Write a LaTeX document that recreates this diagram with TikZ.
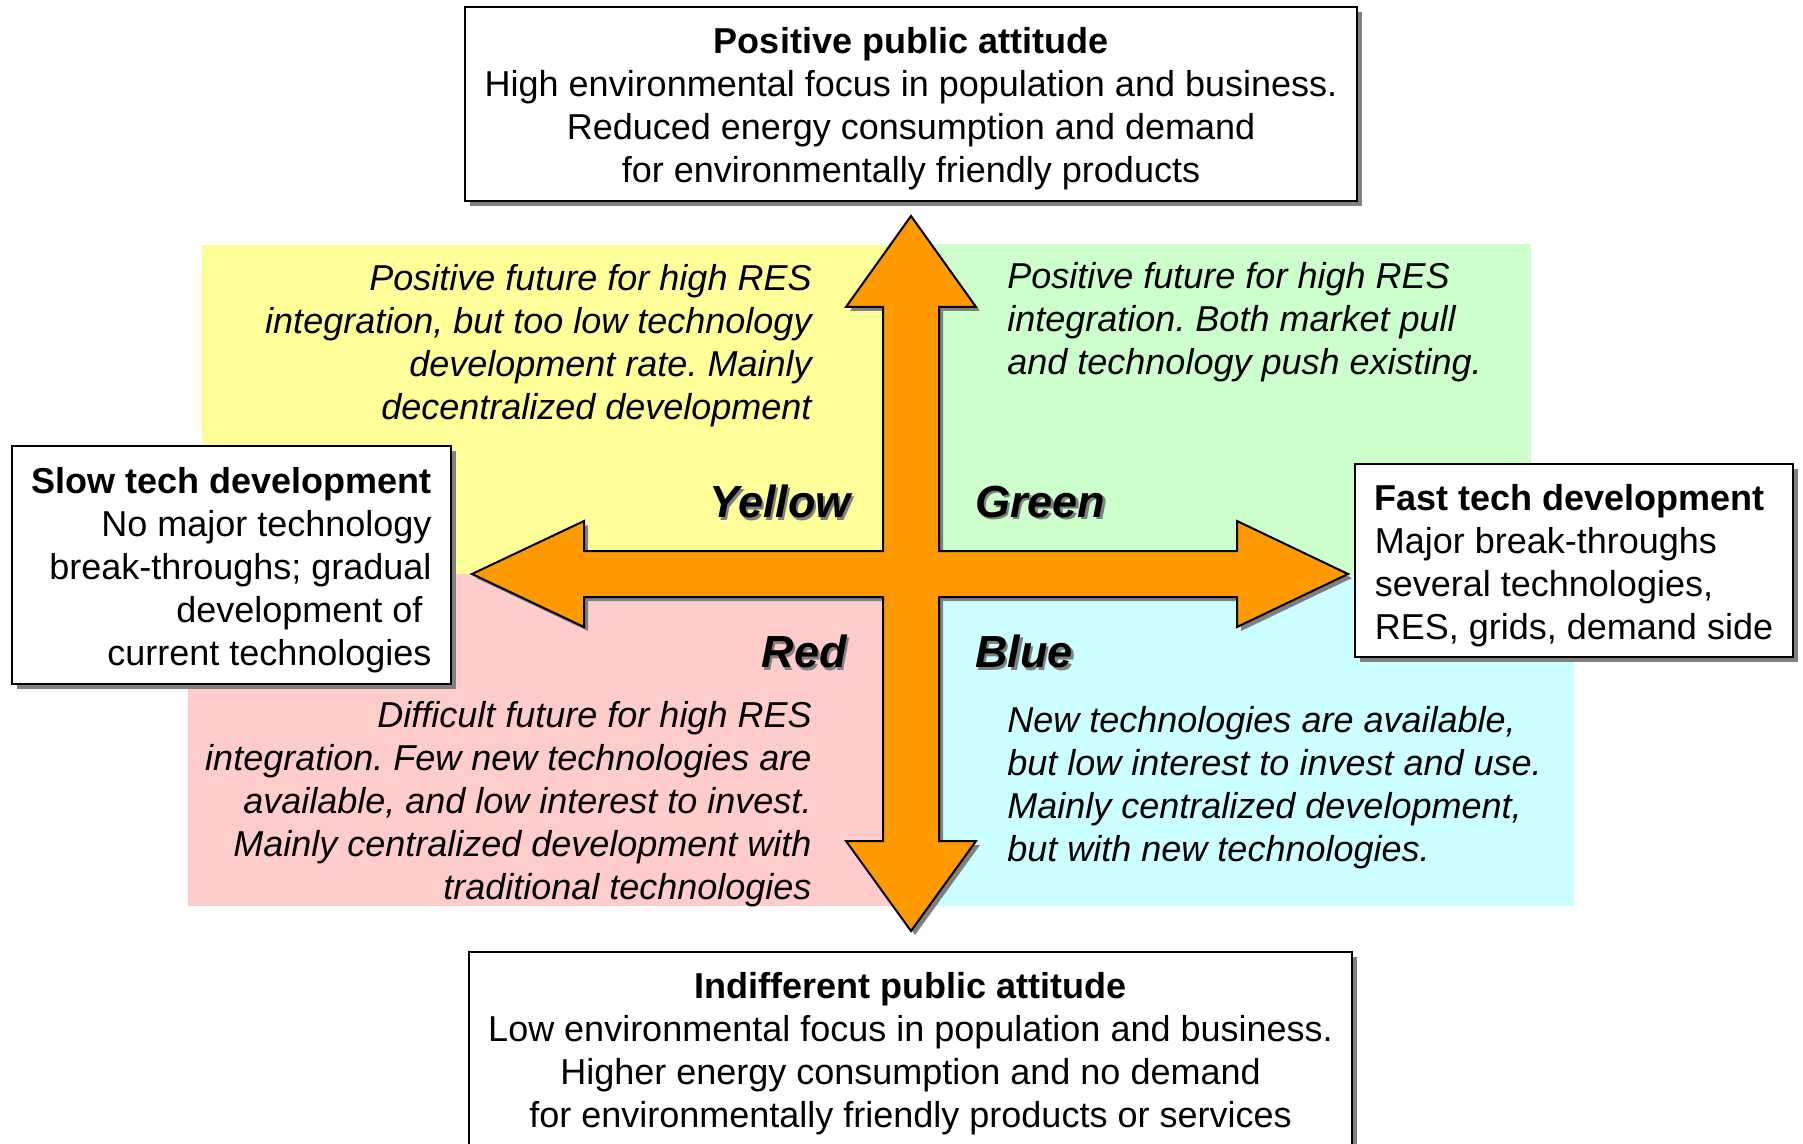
\documentclass[tikz,border=0pt]{standalone}
\usepackage{fontspec}
\setmainfont{Liberation Sans}
\usetikzlibrary{positioning,shadows}

\definecolor{scenyellow}{HTML}{FFFF99}
\definecolor{scengreen}{HTML}{CCFFCC}
\definecolor{scenred}{HTML}{FFCCCC}
\definecolor{scenblue}{HTML}{CCFFFF}
\definecolor{crossorange}{HTML}{FF9900}
\definecolor{shadowgray}{HTML}{808080}

\frenchspacing

% label with a small grey copy behind it
\newcommand{\shadowed}[1]{\rlap{\hspace{1.1pt}\raisebox{-1.1pt}{\color{shadowgray}#1}}#1}
% taller first line, pushes box text a little down
\newcommand{\topstrut}{\rule{0pt}{18pt}}

\begin{document}
\begin{tikzpicture}[
    x=0.5pt, y=-0.5pt,
    box/.style={draw, line width=1.3pt, fill=white, inner sep=0pt,
                font=\fontsize{18}{21.5}\selectfont,
                drop shadow={shadow xshift=2.3pt, shadow yshift=-2.3pt,
                             opacity=1, fill=shadowgray}},
    attbox/.style={box, align=center, minimum height=97pt},
    techbox/.style={box},
    scentext/.style={inner sep=0pt, font=\fontsize{18}{21.5}\selectfont\itshape},
    scenlabel/.style={inner sep=0pt, font=\fontsize{22.5}{27}\selectfont\bfseries\itshape},
    cross/.style={fill=crossorange, draw=black, line width=1pt, line join=miter,
                  drop shadow={shadow xshift=2pt, shadow yshift=-2pt,
                               opacity=1, fill=shadowgray}}
  ]

  \useasboundingbox (0,0) rectangle (1803,1144);
  \clip (0,0) rectangle (1803,1144);
  \fill[white] (0,0) rectangle (1803,1144);

  % ========= four scenario quadrants =========
  \fill[scenyellow] (202,245) rectangle (911,574);
  \fill[scengreen]  (911,244) rectangle (1531,574);
  \fill[scenred]    (188,574) rectangle (911,906);
  \fill[scenblue]   (911,574) rectangle (1574,906);

  % ========= four-headed cross, drawn around its hub =========
  \coordinate (hub) at (911,574);
  \begin{scope}[shift={(hub)}]
    \draw[cross]
      (0,-358) -- (65,-267) -- (28,-267) -- (28,-23)        % up
      -- (326,-23) -- (326,-53) -- (437,0) -- (326,53)      % right
      -- (326,23) -- (28,23) -- (28,267) -- (65,267)
      -- (0,357) -- (-65,267) -- (-28,267) -- (-28,23)      % down
      -- (-327,23) -- (-327,53) -- (-439,0) -- (-327,-53)   % left
      -- (-327,-23) -- (-28,-23) -- (-28,-267) -- (-65,-267) -- cycle;
  \end{scope}

  % ========= scenario descriptions =========
  \node[scentext, anchor=east, align=right] (ytext) at (812,345.5)
    {Positive future for high RES\\
     integration, but too low technology\\
     development rate. Mainly\\
     decentralized development};
  \node[scentext, anchor=west, align=left] (gtext) at (1007,322)
    {Positive future for high RES\\
     integration. Both market pull\\
     and technology push existing.};
  \node[scentext, anchor=east, align=right] (rtext) at (812,804.5)
    {Difficult future for high RES\\
     integration. Few new technologies are\\
     available, and low interest to invest.\\
     Mainly centralized development with\\
     traditional technologies};
  \node[scentext, anchor=west, align=left] (btext) at (1007,787.5)
    {New technologies are available,\\
     but low interest to invest and use.\\
     Mainly centralized development,\\
     but with new technologies.};

  % ========= scenario names =========
  \node[scenlabel, anchor=east] (ylabel) at (851,503) {\shadowed{Yellow}};
  \node[scenlabel, anchor=west] (glabel) at (975,503) {\shadowed{Green}};
  \node[scenlabel, anchor=east] (rlabel) at (847,653) {\shadowed{Red}};
  \node[scenlabel, anchor=west] (blabel) at (975,653) {\shadowed{Blue}};

  % ========= axis end boxes =========
  \node[attbox, minimum width=446pt] (positive) at (911,104)
    {\topstrut\textbf{Positive public attitude}\\
     High environmental focus in population and business.\\
     Reduced energy consumption and demand\\
     for environmentally friendly products};
  \node[attbox, minimum width=441.5pt] (indiff) at (910.5,1049)
    {\topstrut\textbf{Indifferent public attitude}\\
     Low environmental focus in population and business.\\
     Higher energy consumption and no demand\\
     for environmentally friendly products or services};
  \node[techbox, align=right, minimum width=219.5pt, minimum height=119pt] (slow) at (231.5,565)
    {\topstrut\textbf{Slow tech development}\\
     No major technology\\
     break-throughs; gradual\\
     development of\rule{4.5pt}{0pt}\\
     current technologies};
  \node[techbox, align=left, minimum width=219pt, minimum height=96.5pt] (fast) at (1574,560.5)
    {\topstrut\textbf{Fast tech development}\\
     Major break-throughs\\
     several technologies,\\
     RES, grids, demand side};

\end{tikzpicture}
\end{document}
